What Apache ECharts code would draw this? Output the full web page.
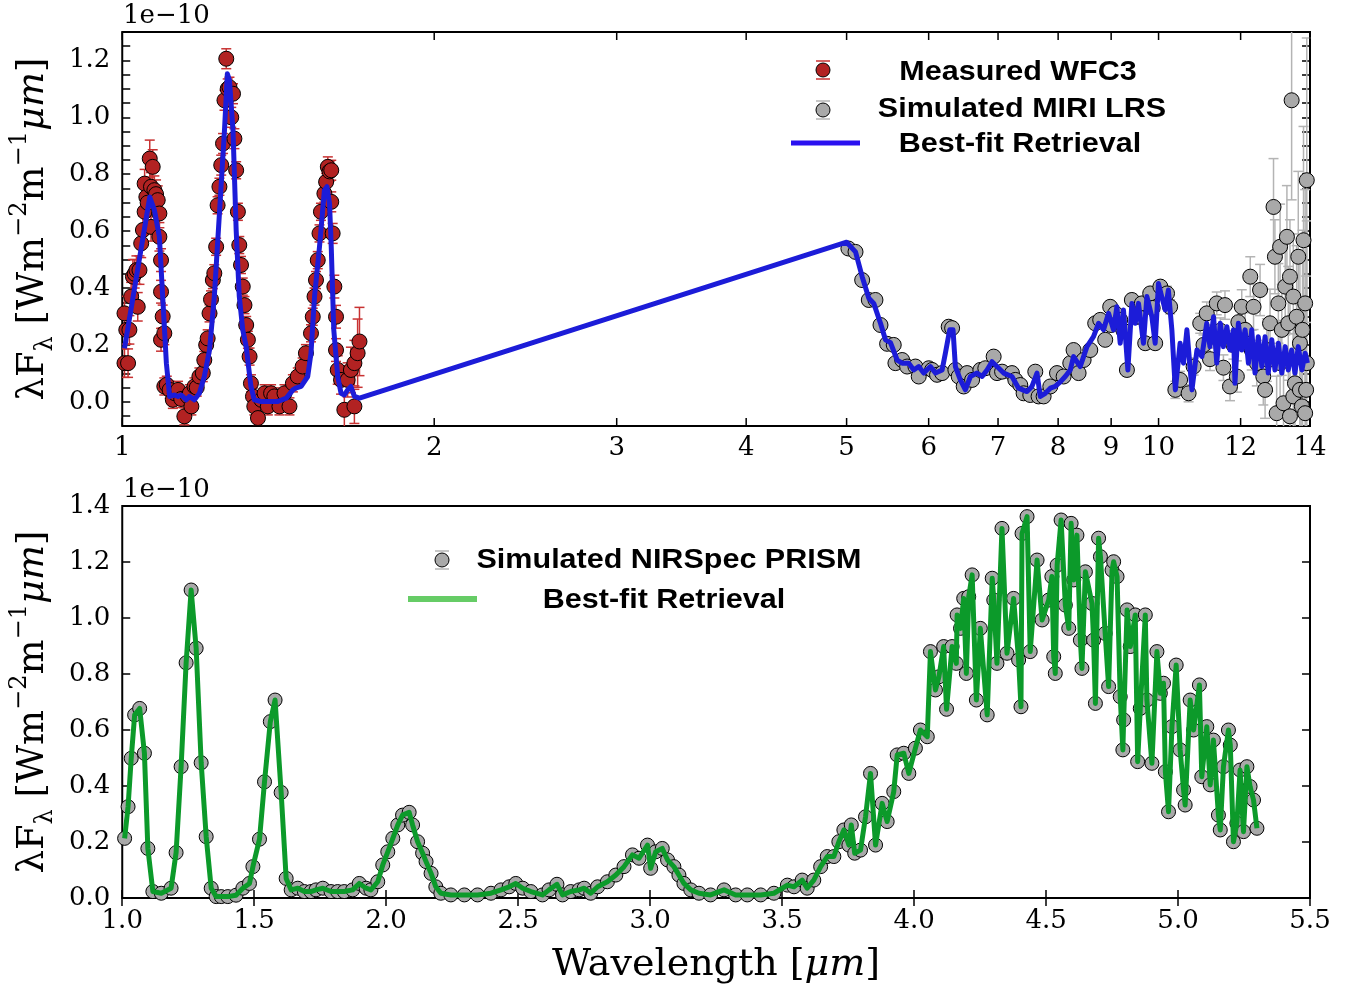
<!DOCTYPE html>
<html><head><meta charset="utf-8">
<script src="https://cdn.jsdelivr.net/npm/echarts@6/dist/echarts.min.js"></script>
<style>html,body{margin:0;padding:0;background:#fff}#c{width:1356px;height:987px}</style>
</head><body><div id="c"></div>
<script>
// ---------- TOP PANEL DATA (flux in units of 1e-10) ----------
const wfc3Wave = [
 1.005,1.005,1.009,1.013,1.016,1.020,1.024,1.028,1.032,1.035,
 1.039,1.043,1.047,1.051,1.051,1.055,1.058,1.063,1.066,1.066,
 1.070,1.074,1.078,1.082,1.086,1.086,1.090,1.090,1.090,1.094,
 1.098,1.098,1.104,1.111,1.119,1.124,1.132,1.140,1.148,1.157,
 1.162,1.166,1.174,1.180,1.187,1.196,1.200,1.205,1.209,1.214,
 1.218,1.223,1.227,1.232,1.236,1.241,1.246,1.251,1.255,1.260,
 1.264,1.269,1.274,1.279,1.283,1.288,1.293,1.297,1.302,1.307,
 1.312,1.317,1.322,1.327,1.331,1.337,1.341,1.352,1.362,1.372,
 1.382,1.392,1.402,1.418,1.434,1.450,1.461,1.477,1.493,1.504,
 1.521,1.527,1.533,1.538,1.544,1.550,1.555,1.567,1.573,1.579,
 1.585,1.591,1.591,1.596,1.602,1.608,1.608,1.614,1.626,1.638,
 1.650,1.662,1.675,1.675,1.687,1.694];
const wfc3Flux = [
 0.311,0.136,0.253,0.136,0.253,0.370,0.440,0.450,0.463,0.334,
 0.463,0.557,0.604,0.668,0.767,0.720,0.700,0.855,0.756,0.615,
 0.826,0.744,0.730,0.709,0.662,0.580,0.498,0.387,0.218,0.300,
 0.241,0.054,0.060,0.042,0.007,0.030,0.042,0.010,-0.051,0.019,
 0.030,-0.016,0.054,0.050,0.089,0.101,0.147,0.200,0.223,0.311,
 0.360,0.428,0.452,0.545,0.691,0.756,0.832,0.908,1.060,1.206,
 1.100,1.106,1.000,1.083,0.925,0.814,0.668,0.551,0.481,0.405,
 0.340,0.270,0.218,0.159,0.065,0.019,-0.016,-0.057,0.007,0.030,
 -0.016,0.030,0.019,-0.016,0.030,-0.016,0.065,0.089,0.124,0.171,
 0.241,0.299,0.370,0.428,0.498,0.592,0.668,0.732,0.773,0.826,
 0.810,0.814,0.703,0.592,0.405,0.299,0.182,0.112,0.077,-0.028,
 0.077,0.112,0.136,-0.016,0.171,0.212];
const wfc3Err = [
 0.06,0.05,0.05,0.05,0.05,0.05,0.06,0.05,0.05,0.05,
 0.05,0.05,0.05,0.05,0.05,0.05,0.05,0.065,0.05,0.05,
 0.06,0.05,0.05,0.05,0.05,0.05,0.04,0.04,0.04,0.04,
 0.04,0.03,0.03,0.03,0.03,0.03,0.03,0.03,0.03,0.03,
 0.03,0.03,0.03,0.03,0.03,0.03,0.03,0.03,0.03,0.03,
 0.03,0.03,0.03,0.03,0.03,0.03,0.035,0.035,0.035,0.035,
 0.035,0.035,0.035,0.035,0.035,0.03,0.03,0.03,0.03,0.03,
 0.03,0.03,0.03,0.03,0.03,0.03,0.03,0.03,0.03,0.03,
 0.03,0.03,0.03,0.03,0.03,0.03,0.03,0.03,0.03,0.03,
 0.03,0.03,0.03,0.03,0.03,0.03,0.03,0.03,0.03,0.035,
 0.035,0.035,0.035,0.035,0.04,0.04,0.04,0.05,0.05,0.06,
 0.06,0.08,0.08,0.06,0.12,0.12];

const miriWave = [
 5.02,5.10,5.176,5.253,5.331,5.391,5.471,5.552,5.573,5.657,
 5.720,5.826,5.869,6.001,6.046,6.113,6.182,6.273,6.321,6.367,
 6.414,6.486,6.535,6.608,6.730,6.805,6.932,6.984,7.063,7.220,
 7.274,7.355,7.409,7.520,7.604,7.660,7.746,7.862,7.980,8.098,
 8.219,8.279,8.372,8.466,8.592,8.687,8.784,8.882,8.981,9.000,
 9.081,9.183,9.250,9.321,9.424,9.529,9.560,9.636,9.708,9.816,
 9.870,9.925,10.04,10.19,10.26,10.38,10.49,10.69,10.81,10.97,
 11.05,11.13,11.21,11.30,11.38,11.47,11.55,11.59,11.72,11.81,
 11.90,11.94,12.03,12.12,12.26,12.30,12.35,12.44,12.53,12.62,
 12.67,12.72,12.76,12.81,12.91,12.95,13.00,13.05,13.10,13.10,
 13.15,13.20,13.25,13.30,13.34,13.39,13.39,13.44,13.49,13.49,
 13.54,13.59,13.64,13.69,13.69,13.75,13.77,13.80,13.85,13.85,
 13.88,13.90,13.90];
const miriFlux = [
 0.539,0.527,0.428,0.358,0.358,0.270,0.204,0.200,0.136,0.147,
 0.124,0.124,0.089,0.118,0.112,0.095,0.101,0.264,0.259,0.112,
 0.089,0.054,0.101,0.077,0.112,0.118,0.159,0.101,0.106,0.101,
 0.077,0.059,0.030,0.024,0.106,0.019,0.019,0.054,0.101,0.089,
 0.136,0.182,0.101,0.147,0.182,0.276,0.288,0.218,0.334,0.270,
 0.311,0.288,0.250,0.112,0.358,0.299,0.300,0.346,0.206,0.381,
 0.330,0.206,0.405,0.381,0.334,0.042,0.077,0.030,0.124,0.276,
 0.200,0.311,0.150,0.229,0.346,0.250,0.120,0.340,0.054,0.200,
 0.089,0.280,0.334,0.253,0.440,0.182,0.334,0.136,0.393,0.089,
 0.042,0.182,0.147,0.276,0.685,0.510,-0.040,0.346,0.545,0.136,
 0.253,-0.005,0.405,0.580,0.276,-0.051,0.440,1.060,0.370,0.019,
 0.065,0.299,0.510,0.206,0.042,-0.016,0.253,0.568,0.346,-0.040,
 0.042,0.779,0.136];
const miriErr = [
 0.01,0.01,0.01,0.01,0.01,0.01,0.01,0.01,0.01,0.01,
 0.01,0.01,0.01,0.01,0.01,0.01,0.01,0.01,0.01,0.01,
 0.01,0.01,0.01,0.01,0.01,0.01,0.01,0.01,0.01,0.01,
 0.01,0.01,0.01,0.01,0.01,0.01,0.01,0.01,0.01,0.015,
 0.015,0.015,0.015,0.015,0.015,0.015,0.015,0.015,0.015,0.015,
 0.015,0.015,0.015,0.02,0.02,0.02,0.02,0.02,0.02,0.02,
 0.02,0.02,0.02,0.025,0.025,0.03,0.03,0.03,0.03,0.035,
 0.035,0.04,0.04,0.04,0.04,0.045,0.045,0.05,0.05,0.05,
 0.055,0.055,0.06,0.06,0.07,0.07,0.08,0.08,0.09,0.10,
 0.10,0.11,0.11,0.12,0.17,0.13,0.13,0.14,0.15,0.15,
 0.16,0.16,0.17,0.18,0.20,0.20,0.20,0.35,0.22,0.22,
 0.25,0.25,0.30,0.30,0.30,0.30,0.35,0.40,0.40,0.40,
 0.40,0.50,0.50];

const fitTopWave = [
 1.005,1.063,1.074,1.086,1.094,1.103,1.111,1.123,1.132,1.140,
 1.153,1.161,1.174,1.187,1.200,1.214,1.227,1.241,1.255,1.263,
 1.269,1.279,1.288,1.297,1.307,1.317,1.331,1.341,1.362,1.413,
 1.440,1.461,1.470,1.488,1.510,1.521,1.533,1.550,1.567,1.576,
 1.585,1.591,1.600,1.614,1.626,1.638,1.650,1.662,1.675,1.694,
 5.00,5.10,5.176,5.253,5.311,5.391,5.451,5.512,5.594,5.657,
 5.740,5.804,5.869,5.935,6.023,6.091,6.182,6.227,6.287,6.334,
 6.367,6.438,6.510,6.583,6.681,6.756,6.831,6.907,6.984,7.088,
 7.220,7.327,7.465,7.548,7.633,7.689,7.775,7.862,7.949,8.038,
 8.128,8.219,8.279,8.403,8.529,8.654,8.751,8.849,8.948,9.048,
 9.115,9.183,9.250,9.341,9.424,9.494,9.564,9.670,9.744,9.852,
 9.925,9.998,10.07,10.15,10.22,10.30,10.38,10.49,10.57,10.65,
 10.77,10.89,11.01,11.13,11.21,11.30,11.38,11.47,11.55,11.64,
 11.72,11.81,11.85,11.94,12.03,12.12,12.21,12.30,12.39,12.48,
 12.58,12.67,12.76,12.86,12.95,13.05,13.15,13.25,13.34,13.44,
 13.54,13.64,13.75,13.85,13.92];
const fitTopFlux = [
 0.188,0.720,0.674,0.580,0.370,0.136,0.019,0.024,0.019,0.024,
 0.007,0.019,0.007,0.030,0.089,0.182,0.370,0.662,0.954,1.153,
 1.130,0.954,0.604,0.370,0.253,0.194,0.054,0.007,0.001,0.001,
 0.013,0.042,0.048,0.054,0.089,0.171,0.370,0.545,0.744,0.756,
 0.697,0.545,0.253,0.089,0.030,0.024,0.042,0.054,0.019,0.013,
 0.561,0.527,0.440,0.364,0.346,0.276,0.218,0.208,0.147,0.136,
 0.136,0.112,0.124,0.101,0.124,0.101,0.112,0.171,0.253,0.253,
 0.124,0.077,0.042,0.089,0.101,0.089,0.112,0.141,0.124,0.101,
 0.089,0.048,0.036,0.054,0.101,0.019,0.030,0.048,0.054,0.070,
 0.089,0.112,0.159,0.124,0.194,0.229,0.276,0.253,0.311,0.253,
 0.334,0.206,0.323,0.112,0.346,0.276,0.346,0.206,0.370,0.299,
 0.206,0.416,0.370,0.323,0.393,0.253,0.042,0.206,0.136,0.253,
 0.042,0.182,0.159,0.276,0.194,0.299,0.136,0.276,0.194,0.264,
 0.182,0.253,0.065,0.276,0.182,0.253,0.136,0.253,0.101,0.229,
 0.124,0.229,0.101,0.218,0.112,0.206,0.101,0.194,0.112,0.182,
 0.101,0.194,0.112,0.171,0.136];

// ---------- BOTTOM PANEL DATA ----------
const nirWave = [
 1.009,1.022,1.034,1.047,1.066,1.084,1.097,1.116,1.148,1.185,
 1.204,1.223,1.242,1.261,1.280,1.299,1.318,1.337,1.356,1.375,
 1.400,1.431,1.457,1.482,1.495,1.520,1.539,1.561,1.579,1.602,
 1.621,1.640,1.665,1.690,1.715,1.734,1.760,1.791,1.816,1.841,
 1.873,1.898,1.924,1.942,1.968,1.987,2.006,2.025,2.044,2.062,
 2.087,2.100,2.119,2.138,2.151,2.170,2.188,2.207,2.245,2.296,
 2.346,2.397,2.435,2.466,2.491,2.517,2.548,2.592,2.617,2.647,
 2.668,2.699,2.731,2.750,2.775,2.801,2.838,2.870,2.901,2.933,
 2.958,2.990,3.002,3.021,3.046,3.066,3.090,3.109,3.128,3.154,
 3.185,3.229,3.280,3.324,3.368,3.419,3.469,3.520,3.545,3.576,
 3.595,3.620,3.646,3.671,3.696,3.715,3.734,3.753,3.762,3.775,
 3.797,3.816,3.835,3.854,3.879,3.898,3.923,3.936,3.961,3.980,
 4.005,4.024,4.050,4.062,4.081,4.094,4.112,4.123,4.144,4.160,
 4.163,4.176,4.188,4.198,4.207,4.220,4.236,4.251,4.277,4.296,
 4.302,4.314,4.333,4.352,4.377,4.396,4.405,4.409,4.428,4.440,
 4.466,4.485,4.510,4.522,4.529,4.535,4.542,4.557,4.573,4.586,
 4.595,4.605,4.617,4.630,4.636,4.649,4.674,4.680,4.687,4.699,
 4.706,4.724,4.737,4.750,4.756,4.769,4.781,4.791,4.794,4.807,
 4.819,4.838,4.847,4.857,4.876,4.882,4.901,4.920,4.933,4.945,
 4.952,4.964,4.977,4.993,5.008,5.021,5.027,5.046,5.059,5.081,
 5.090,5.109,5.122,5.134,5.153,5.160,5.172,5.191,5.198,5.210,
 5.223,5.235,5.248,5.261,5.273,5.286,5.299];
const nirFlux = [
 0.213,0.326,0.499,0.654,0.677,0.517,0.177,0.023,0.017,0.035,
 0.162,0.469,0.840,1.100,0.892,0.483,0.219,0.035,0.005,0.005,
 0.005,0.010,0.035,0.052,0.112,0.210,0.415,0.630,0.707,0.377,
 0.070,0.029,0.035,0.023,0.023,0.029,0.035,0.023,0.023,0.023,
 0.029,0.052,0.035,0.029,0.058,0.118,0.165,0.213,0.261,0.296,
 0.306,0.261,0.201,0.160,0.130,0.088,0.040,0.017,0.011,0.011,
 0.011,0.017,0.029,0.040,0.052,0.035,0.023,0.011,0.029,0.049,
 0.011,0.023,0.029,0.035,0.017,0.040,0.058,0.082,0.112,0.154,
 0.142,0.189,0.106,0.165,0.177,0.136,0.112,0.082,0.052,0.029,
 0.017,0.011,0.029,0.011,0.011,0.011,0.017,0.046,0.040,0.064,
 0.035,0.064,0.112,0.148,0.148,0.201,0.243,0.189,0.261,0.160,
 0.171,0.290,0.445,0.189,0.338,0.273,0.380,0.511,0.517,0.445,
 0.535,0.600,0.576,0.880,0.743,0.790,0.898,0.674,0.898,0.838,
 1.011,0.963,1.070,0.802,1.076,1.154,0.707,0.963,0.654,1.142,
 1.064,0.838,1.320,0.874,1.070,0.850,0.683,1.302,1.362,0.880,
 1.207,0.993,1.064,1.148,0.862,0.802,1.189,1.350,1.046,0.963,
 1.338,1.136,1.296,0.921,0.820,1.165,1.052,0.921,0.695,1.285,
 1.219,0.945,0.755,1.171,1.201,1.148,0.719,0.529,0.636,1.029,
 0.898,1.011,0.487,0.677,1.011,0.707,0.481,0.880,0.731,0.767,
 0.451,0.308,0.612,0.832,0.529,0.386,0.332,0.707,0.600,0.761,
 0.433,0.612,0.404,0.564,0.296,0.243,0.469,0.600,0.546,0.201,
 0.267,0.457,0.237,0.469,0.398,0.350,0.249];

// ---------- AXIS TICKS ----------
const topXTicks = [1,2,3,4,5,6,7,8,9,10,12,14];
const topYLabels = [0,0.2,0.4,0.6,0.8,1.0,1.2];
const topYTicks = [-0.05,0,0.05,0.1,0.15,0.2,0.25,0.3,0.35,0.4,0.45,0.5,0.55,0.6,0.65,0.7,0.75,0.8,0.85,0.9,0.95,1.0,1.05,1.1,1.15,1.2,1.25];
const TOP_YMIN = -0.085, TOP_YMAX = 1.3;

const SERIF = 'DejaVu Serif';
const chart = echarts.init(document.getElementById('c'), null, {renderer:'canvas'});

function errBars(xs, ys, es, color, xi, yi, cap) {
  return {
    type:'custom', xAxisIndex:xi, yAxisIndex:yi, z:1, clip:true, silent:true,
    encode:{x:0, y:1},
    data: xs.map((x,i)=>[x, ys[i], ys[i]-es[i], ys[i]+es[i]]),
    renderItem: function(params, api){
      const x = api.value(0);
      const lo = api.coord([x, api.value(2)]);
      const hi = api.coord([x, api.value(3)]);
      const st = {stroke:color, lineWidth:1.5};
      return {type:'group', children:[
        {type:'line', shape:{x1:lo[0],y1:lo[1],x2:hi[0],y2:hi[1]}, style:st},
        {type:'line', shape:{x1:lo[0]-cap,y1:lo[1],x2:lo[0]+cap,y2:lo[1]}, style:st},
        {type:'line', shape:{x1:hi[0]-cap,y1:hi[1],x2:hi[0]+cap,y2:hi[1]}, style:st}
      ]};
    }
  };
}

const yName = '{n|λF}{s|λ}{n| [Wm}{p|−2}{n|m}{p|−1}{i|μm}{n|]}';
const yNameStyle = {
  color:'#000', fontFamily:SERIF, fontSize:37,
  rich:{
    n:{fontFamily:SERIF, fontSize:37, color:'#000', lineHeight:50},
    i:{fontFamily:SERIF, fontStyle:'italic', fontSize:37, color:'#000', lineHeight:50},
    s:{fontFamily:SERIF, fontSize:24, color:'#000', verticalAlign:'bottom'},
    p:{fontFamily:SERIF, fontSize:24, color:'#000', verticalAlign:'top'}
  }
};
const tickStyle = {color:'#000', width:1.5};
const labelStyle = {color:'#000', fontFamily:SERIF, fontSize:26};
const LEG_FONT = {fontFamily:'Liberation Sans', fontWeight:'bold', fontSize:28, fill:'#000', align:'center', verticalAlign:'middle'};

const option = {
  animation:false,
  backgroundColor:'#fff',
  grid:[
    {left:121, top:32, width:1189, height:394, show:true, borderColor:'#000', borderWidth:2, backgroundColor:'transparent'},
    {left:121, top:506, width:1189, height:392, show:true, borderColor:'#000', borderWidth:2, backgroundColor:'transparent'}
  ],
  xAxis:[
    {gridIndex:0, type:'log', logBase:10, min:1, max:14, axisLine:{show:false}, axisTick:{show:false}, axisLabel:{show:false}, splitLine:{show:false}},
    {gridIndex:1, type:'value', min:1, max:5.5, interval:0.5, axisLine:{show:false}, splitLine:{show:false},
      axisTick:{inside:true, length:8, lineStyle:tickStyle},
      axisLabel:Object.assign({margin:10, formatter:v=>v.toFixed(1)}, labelStyle),
      name:'Wavelength [{i|μm}]', nameLocation:'middle', nameGap:48,
      nameTextStyle:{color:'#000', fontFamily:SERIF, fontSize:38, rich:{i:{fontFamily:SERIF, fontStyle:'italic', fontSize:38, color:'#000'}}}},
    {gridIndex:1, type:'value', position:'top', min:1, max:5.5, interval:0.5, axisLine:{show:false}, splitLine:{show:false},
      axisTick:{inside:true, length:8, lineStyle:tickStyle}, axisLabel:{show:false}}
  ],
  yAxis:[
    {gridIndex:0, type:'value', min:TOP_YMIN, max:TOP_YMAX, axisLine:{show:false}, splitLine:{show:false},
      axisTick:{inside:true, length:8, lineStyle:tickStyle, customValues:topYTicks},
      axisLabel:Object.assign({margin:12, customValues:topYLabels, formatter:v=>v.toFixed(1)}, labelStyle),
      name:yName, nameLocation:'middle', nameGap:64, nameTextStyle:yNameStyle},
    {gridIndex:0, type:'value', position:'right', min:TOP_YMIN, max:TOP_YMAX, axisLine:{show:false}, splitLine:{show:false},
      axisTick:{inside:true, length:8, lineStyle:tickStyle, customValues:topYTicks}, axisLabel:{show:false}},
    {gridIndex:1, type:'value', min:0, max:1.4, interval:0.2, axisLine:{show:false}, splitLine:{show:false},
      axisTick:{inside:true, length:8, lineStyle:tickStyle},
      axisLabel:Object.assign({margin:12, formatter:v=>v.toFixed(1)}, labelStyle),
      name:yName, nameLocation:'middle', nameGap:64, nameTextStyle:yNameStyle},
    {gridIndex:1, type:'value', position:'right', min:0, max:1.4, interval:0.2, axisLine:{show:false}, splitLine:{show:false},
      axisTick:{inside:true, length:8, lineStyle:tickStyle}, axisLabel:{show:false}}
  ],
  series:[
    errBars(miriWave, miriFlux, miriErr, '#b4b4b4', 0, 0, 5),
    errBars(wfc3Wave, wfc3Flux, wfc3Err, '#c83232', 0, 0, 5),
    {type:'scatter', name:'Simulated MIRI LRS', xAxisIndex:0, yAxisIndex:0, z:2, symbolSize:15, clip:true,
      data:miriWave.map((x,i)=>[x, miriFlux[i]]),
      itemStyle:{color:'#a9a9a9', borderColor:'#000', borderWidth:1, opacity:1}},
    {type:'scatter', name:'Measured WFC3', xAxisIndex:0, yAxisIndex:0, z:2, symbolSize:15, clip:true,
      data:wfc3Wave.map((x,i)=>[x, wfc3Flux[i]]),
      itemStyle:{color:'#b22222', borderColor:'#000', borderWidth:1, opacity:1}},
    {type:'line', name:'Best-fit Retrieval', xAxisIndex:0, yAxisIndex:0, z:3, showSymbol:false, symbol:'none',
      data:fitTopWave.map((x,i)=>[x, fitTopFlux[i]]),
      lineStyle:{color:'#1c1cd8', width:5, join:'round'}},
    {type:'custom', xAxisIndex:0, yAxisIndex:0, z:10, clip:false, silent:true,
      encode:{x:0, y:1},
      data:topXTicks.map(v=>[v, TOP_YMIN]),
      renderItem:function(params, api){
        const v = api.value(0);
        const b = api.coord([v, TOP_YMIN]);
        const t = api.coord([v, TOP_YMAX]);
        const st = {stroke:'#000', lineWidth:1.5};
        return {type:'group', children:[
          {type:'line', shape:{x1:b[0],y1:b[1],x2:b[0],y2:b[1]-8}, style:st},
          {type:'line', shape:{x1:t[0],y1:t[1],x2:t[0],y2:t[1]+8}, style:st},
          {type:'text', x:b[0], y:b[1]+9, style:{text:String(v), fontFamily:SERIF, fontSize:26, fill:'#000', align:'center', verticalAlign:'top'}}
        ]};
      }},
    {type:'scatter', name:'Simulated NIRSpec PRISM', xAxisIndex:1, yAxisIndex:2, z:2, symbolSize:14,
      data:nirWave.map((x,i)=>[x, nirFlux[i]]),
      itemStyle:{color:'#a9a9a9', borderColor:'#000', borderWidth:1, opacity:1}},
    {type:'line', name:'Best-fit Retrieval (NIRSpec)', xAxisIndex:1, yAxisIndex:2, z:3, showSymbol:false, symbol:'none',
      data:nirWave.map((x,i)=>[x, nirFlux[i]]),
      lineStyle:{color:'#0c9a2a', width:5, join:'round'}}
  ],
  graphic:[
    {type:'text', x:123, y:16, style:{text:'1e−10', fontFamily:SERIF, fontSize:26, fill:'#000', align:'left', verticalAlign:'middle'}},
    {type:'text', x:123, y:490, style:{text:'1e−10', fontFamily:SERIF, fontSize:26, fill:'#000', align:'left', verticalAlign:'middle'}},
    // top legend
    {type:'line', shape:{x1:816,y1:61,x2:830,y2:61}, style:{stroke:'#c83232', lineWidth:1.5}},
    {type:'line', shape:{x1:816,y1:79,x2:830,y2:79}, style:{stroke:'#c83232', lineWidth:1.5}},
    {type:'circle', shape:{cx:823, cy:70, r:7}, style:{fill:'#b22222', stroke:'#000', lineWidth:1}},
    {type:'line', shape:{x1:816,y1:101,x2:830,y2:101}, style:{stroke:'#b4b4b4', lineWidth:1.5}},
    {type:'line', shape:{x1:816,y1:119,x2:830,y2:119}, style:{stroke:'#b4b4b4', lineWidth:1.5}},
    {type:'circle', shape:{cx:823, cy:110, r:7}, style:{fill:'#a9a9a9', stroke:'#000', lineWidth:1}},
    {type:'line', shape:{x1:791,y1:143,x2:860,y2:143}, style:{stroke:'#2a10f0', lineWidth:5}},
    {type:'text', x:1018, y:72, scaleX:1.09, style:Object.assign({text:'Measured WFC3'}, LEG_FONT)},
    {type:'text', x:1022, y:109, scaleX:1.09, style:Object.assign({text:'Simulated MIRI LRS'}, LEG_FONT)},
    {type:'text', x:1020, y:144, scaleX:1.09, style:Object.assign({text:'Best-fit Retrieval'}, LEG_FONT)},
    // bottom legend
    {type:'line', shape:{x1:435,y1:551,x2:449,y2:551}, style:{stroke:'#b4b4b4', lineWidth:1.5}},
    {type:'line', shape:{x1:435,y1:569,x2:449,y2:569}, style:{stroke:'#b4b4b4', lineWidth:1.5}},
    {type:'circle', shape:{cx:442, cy:560, r:7}, style:{fill:'#a9a9a9', stroke:'#000', lineWidth:1}},
    {type:'line', shape:{x1:408,y1:599,x2:477,y2:599}, style:{stroke:'#66cc66', lineWidth:6}},
    {type:'text', x:669, y:560, scaleX:1.09, style:Object.assign({text:'Simulated NIRSpec PRISM'}, LEG_FONT)},
    {type:'text', x:664, y:600, scaleX:1.09, style:Object.assign({text:'Best-fit Retrieval'}, LEG_FONT)}
  ]
};
chart.setOption(option);
</script>
</body></html>
